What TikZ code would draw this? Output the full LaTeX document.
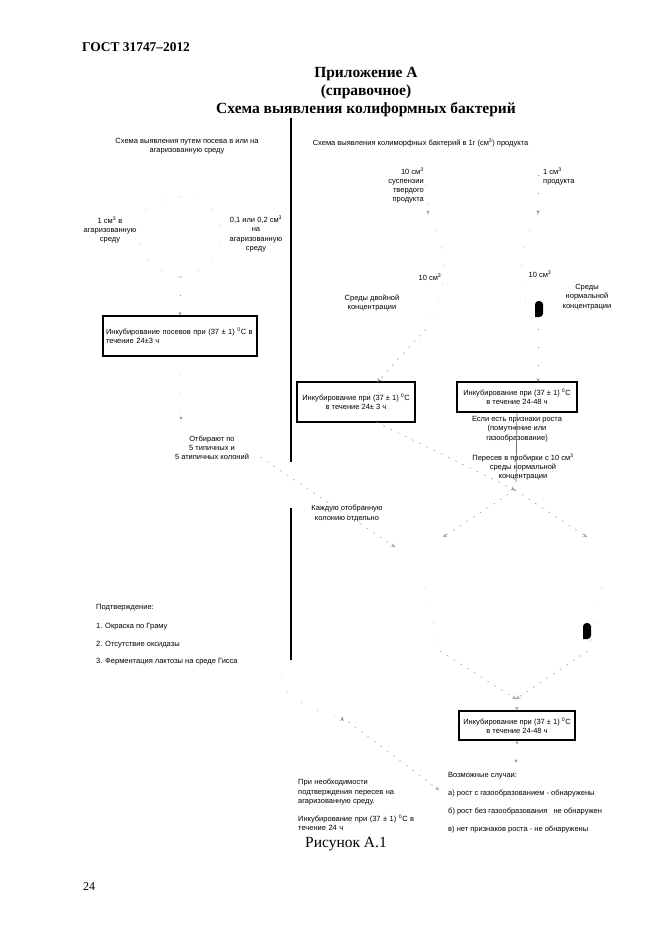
\documentclass[tikz,border=0pt]{standalone}
\usepackage{fontspec}
\setmainfont{Liberation Serif}
\newfontfamily\smallsans{Liberation Sans}
\usetikzlibrary{positioning, arrows.meta}

\tikzset{
    label/.style={inner sep=0pt, align=center, font=\smallsans\fontsize{7.5}{9.2}\selectfont},
    leftlabel/.style={label, align=left, anchor=west},
    rightlabel/.style={label, align=right, anchor=east},
    incubox/.style={draw, line width=1.2pt, inner sep=0pt, align=center, font=\smallsans\fontsize{7.5}{9.2}\selectfont},
    heading/.style={inner sep=0pt, align=center, font=\bfseries\fontsize{15.5}{18}\selectfont},
    tube/.style={fill=black, rounded corners=3.5pt},
    hairline/.style={draw=black!50, line width=0.3pt, dash pattern=on 1pt off 17pt},
    faint/.style={draw=black!50, line width=0.35pt, dash pattern=on 2pt off 6pt},
    hairarrow/.style={hairline, -{Stealth[length=3.5pt, width=3pt, open]}},
    faintarrow/.style={faint, -{Stealth[length=4pt, width=3.5pt, open]}}
}

\begin{document}
\begin{tikzpicture}[x=1pt, y=-1pt]
    \useasboundingbox (0,0) rectangle (661,936);

    % Page head and title:
    \node[inner sep=0pt, anchor=west, font=\bfseries\fontsize{13.4}{15}\selectfont] (gost) at (82,47) {ГОСТ 31747–2012};
    \node[heading] (title) at (366,92) {Приложение А\\(справочное)\\Схема выявления колиформных бактерий};

    % Vertical divider, in two pieces:
    \coordinate (divA) at (291,118);
    \coordinate (divB) at (291,462);
    \coordinate (divC) at (291,508);
    \coordinate (divD) at (291,660);
    \draw[line width=1.2pt] (divA) -- (divB);
    \draw[line width=1.2pt] (divC) -- (divD);

    % Left column:
    \node[label] (leftHead) at (187,146.5) {Схема выявления путем посева в или на\\агаризованную среду};
    \node[label] (oneAgar) at (110,230) {1 см\textsuperscript{3} в\\агаризованную\\среду};
    \node[label] (tenthAgar) at (256,234) {0,1 или 0,2 см\textsuperscript{3}\\на\\агаризованную\\среду};
    \node[incubox, minimum width=154pt, minimum height=40pt, text width=148pt, align=left] (boxSow) at (180,336)
        {Инкубирование посевов при (37 ± 1) \textsuperscript{0}С в\\течение 24±3 ч};
    \node[label] (pick) at (212,448) {Отбирают по\\5 типичных и\\5 атипичных колоний};
    \node[label] (eachColony) at (347,513.5) {Каждую отобранную\\колонию отдельно};
    \node[leftlabel] (confirmA) at (96,608) {Подтверждение:};
    \node[leftlabel] (confirmB) at (96,627) {1. Окраска по Граму};
    \node[leftlabel] (confirmC) at (96,645) {2. Отсутствие оксидазы};
    \node[leftlabel] (confirmD) at (96,662) {3. Ферментация лактозы на среде Гисса};

    % Right column, upper part:
    \node[label] (rightHead) at (420.5,143) {Схема выявления колиморфных бактерий в 1г (см\textsuperscript{3}) продукта};
    \node[rightlabel] (susp) at (424,185.5) {10 см\textsuperscript{3}\\суспензии\\твердого\\продукта};
    \node[leftlabel] (oneProd) at (543,176.5) {1 см\textsuperscript{3}\\продукта};
    \node[label] (tenL) at (430,277) {10 см\textsuperscript{3}};
    \node[label] (tenR) at (540,274) {10 см\textsuperscript{3}};
    \node[label] (mediaDouble) at (372,303) {Среды двойной\\концентрации};
    \node[label] (mediaNormal) at (587,297) {Среды\\нормальной\\концентрации};
    \node[incubox, minimum width=118pt, minimum height=40pt] (boxDouble) at (356,402)
        {Инкубирование при (37 ± 1) \textsuperscript{0}С\\в течение  24± 3 ч};
    \node[incubox, minimum width=120pt, minimum height=30pt] (boxNormal) at (517,397)
        {Инкубирование при (37 ± 1) \textsuperscript{0}С\\в течение  24-48 ч};
    \node[label] (signs) at (517,429) {Если есть признаки роста\\(помутнение или\\газообразование)};
    \node[label] (reseed) at (523,467) {Пересев в пробирки с 10 см\textsuperscript{3}\\среды нормальной\\концентрации};

    % Test tubes:
    \fill[tube] (535,317) -- (535,301) -- (543,301) -- (543,317) [sharp corners] -- cycle;
    \fill[tube] (583,639) -- (583,623) -- (591,623) -- (591,639) [sharp corners] -- cycle;

    % Right column, lower part:
    \node[incubox, minimum width=116pt, minimum height=29pt] (boxFinal) at (517,725.5)
        {Инкубирование при (37 ± 1) \textsuperscript{0}С\\в течение 24-48 ч};
    \node[leftlabel, text width=140pt] (agarNote) at (298,805)
        {При необходимости\\подтверждения пересев на\\агаризованную среду.\\[9pt]Инкубирование при (37 ± 1) \textsuperscript{0}С в\\течение 24 ч};
    \node[leftlabel] (casesHead) at (448,776) {Возможные случаи:};
    \node[leftlabel] (caseA) at (448,794) {а) рост с газообразованием - обнаружены};
    \node[leftlabel] (caseB) at (448,812) {б) рост без газообразования \ \ не обнаружен};
    \node[leftlabel] (caseC) at (448,830) {в) нет признаков роста  - не обнаружены};
    \node[inner sep=0pt, font=\fontsize{15.5}{17}\selectfont] (caption) at (346,844) {Рисунок А.1};
    \node[inner sep=0pt, anchor=west, font=\fontsize{12}{14}\selectfont] (pageNo) at (83,887) {24};

    % Free ends of the broken connectors:
    \coordinate (sowTop) at (179,197);
    \coordinate (sowLow) at (180,277);
    \coordinate (pickTip) at (181,420);
    \coordinate (suspTip) at (428,214);
    \coordinate (prodTop) at (538,175);
    \coordinate (prodTip) at (538,214);
    \coordinate (doubleTop) at (426,329);
    \coordinate (doubleIn) at (377,382);
    \coordinate (doubleOut) at (376,422);
    \coordinate (normalTop) at (538,329);
    \coordinate (normalIn) at (538,382);
    \coordinate (splitTip) at (515,490);
    \coordinate (splitLeft) at (443,537);
    \coordinate (splitRight) at (587,537);
    \coordinate (grayEnd) at (516,482);
    \coordinate (colonyStart) at (260,457);
    \coordinate (colonyTip) at (395,547);
    \coordinate (leftCross) at (425,587);
    \coordinate (rightCross) at (602,587);
    \coordinate (lowLeft) at (440,651);
    \coordinate (lowRight) at (588,651);
    \coordinate (joinTip) at (516,699);
    \coordinate (endTip) at (516,763);
    \coordinate (bracketTip) at (342,717);
    \coordinate (bracketEnd) at (439,790);

    % Connectors, of which the reference keeps only fragments:
    \path[hairline]
        (sowTop) edge[out=180, in=170, looseness=1.8] (sowLow)
        (sowTop) edge[out=0, in=10, looseness=1.8] (sowLow)
        (suspTip) edge[out=-60, in=60] (doubleTop)
        (prodTip) edge[out=-120, in=120] (normalTop)
        (leftCross) edge (lowLeft)
        (rightCross) edge (lowRight)
        (divD) edge[out=-140, in=170, looseness=1.3] (bracketTip);
    \path[hairarrow]
        (sowLow) edge (boxSow.north)
        (boxSow.south) edge (pickTip)
        (susp.north east) edge (suspTip)
        (prodTop) edge (prodTip)
        (normalTop) edge (normalIn)
        (joinTip) edge (boxFinal.north)
        (boxFinal.south) edge (endTip);
    \path[faintarrow]
        (doubleTop) edge (doubleIn)
        (doubleOut) edge (splitTip)
        (splitTip) edge (splitLeft)
        (splitTip) edge (splitRight)
        (colonyStart) edge (colonyTip)
        (lowLeft) edge (joinTip)
        (lowRight) edge (joinTip)
        (bracketTip) edge (bracketEnd);
    \draw[black!55, line width=0.7pt] (boxNormal.south) -- (grayEnd);
\end{tikzpicture}
\end{document}
